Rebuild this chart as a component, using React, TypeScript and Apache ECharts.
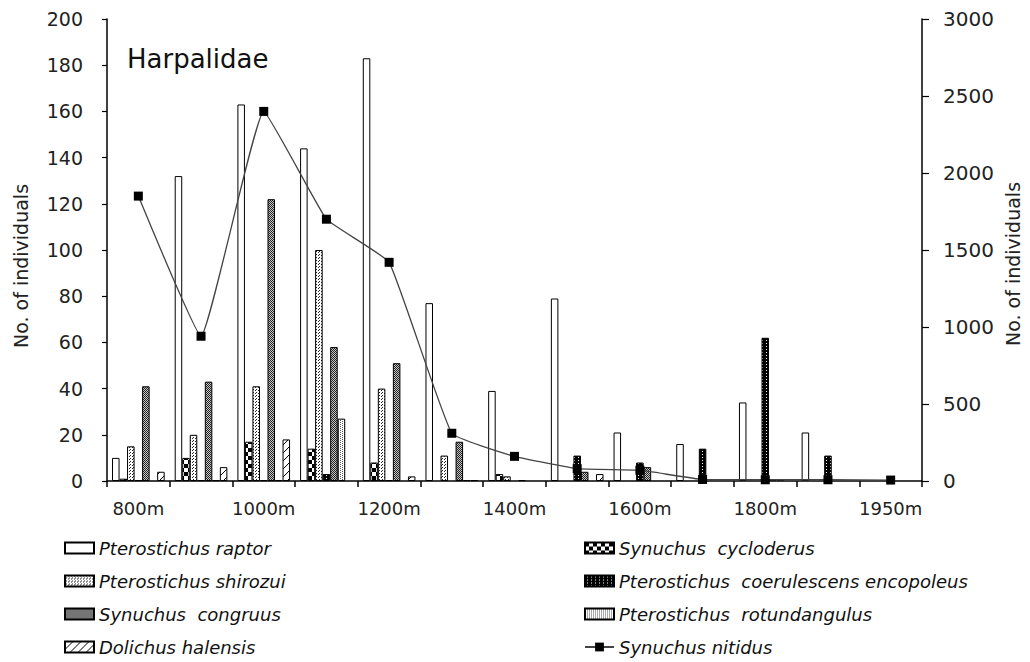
import React, { useEffect, useRef } from "react";
import * as echarts from "echarts";

const categories = ["800m", "900m", "1000m", "1100m", "1200m", "1300m", "1400m", "1500m", "1600m", "1700m", "1800m", "1900m", "1950m"];

const raptor = [10, 132, 163, 144, 183, 77, 39, 79, 21, 16, 34, 21, 0];
const cycloderus = [1, 10, 17, 14, 8, 0, 3, 0, 0, 0, 0, 0, 0];
const shirozui = [15, 20, 41, 100, 40, 11, 2, 0, 0, 0, 0, 0, 0];
const coerulescens = [0.4, 0.4, 0.4, 3, 0.4, 0, 0, 11, 8, 14, 62, 11, 0];
const congruus = [41, 43, 122, 58, 51, 17, 0.4, 4, 6, 0, 0.4, 0, 0];
const rotundangulus = [0, 0.4, 0.4, 27, 0, 0.4, 0, 0, 0, 0, 0.4, 0, 0];
const halensis = [4, 6, 18, 0, 2, 0.4, 0, 3, 0, 0, 0, 0, 0];
const nitidus = [1850, 940, 2400, 1700, 1420, 310, 160, 80, 70, 10, 8, 8, 6];

const leftTicks = { min: 0, max: 200, interval: 20 };
const rightTicks = { min: 0, max: 3000, interval: 500 };

const FONT = '"DejaVu Sans", "Noto Sans", sans-serif';

function makePattern(w: number, h: number, draw: (ctx: CanvasRenderingContext2D) => void) {
  const c = document.createElement("canvas");
  c.width = w;
  c.height = h;
  const ctx = c.getContext("2d")!;
  draw(ctx);
  return { image: c.toDataURL(), repeat: "repeat" } as any;
}

function px(ctx: CanvasRenderingContext2D, pts: number[][], color: string) {
  ctx.fillStyle = color;
  pts.forEach(([x, y]) => ctx.fillRect(x, y, 1, 1));
}

export default function App() {
  const ref = useRef<HTMLDivElement>(null);
  useEffect(() => {
    const chart = echarts.init(ref.current!, null, { renderer: "svg" });

    const patShirozui = makePattern(3, 3, (ctx) => {
      ctx.fillStyle = "#fff";
      ctx.fillRect(0, 0, 3, 3);
      px(ctx, [[0, 0], [1, 2]], "#222");
    });
    const patCongruus = makePattern(2, 2, (ctx) => {
      ctx.fillStyle = "#c8c8c8";
      ctx.fillRect(0, 0, 2, 2);
      px(ctx, [[0, 0], [1, 1]], "#222");
    });
    const patCycloderus = makePattern(8, 8, (ctx) => {
      ctx.fillStyle = "#fff";
      ctx.fillRect(0, 0, 8, 8);
      ctx.fillStyle = "#000";
      ctx.fillRect(0, 0, 4, 4);
      ctx.fillRect(4, 4, 4, 4);
    });
    const patCoerulescens = makePattern(4, 3, (ctx) => {
      ctx.fillStyle = "#000";
      ctx.fillRect(0, 0, 4, 3);
      px(ctx, [[2, 1]], "#fff");
    });
    const patHalensis = makePattern(8, 8, (ctx) => {
      ctx.fillStyle = "#fff";
      ctx.fillRect(0, 0, 8, 8);
      ctx.strokeStyle = "#000";
      ctx.lineWidth = 1;
      ctx.beginPath();
      ctx.moveTo(0, 8);
      ctx.lineTo(8, 0);
      ctx.stroke();
    });
    const patRotund = makePattern(4, 2, (ctx) => {
      ctx.fillStyle = "#fff";
      ctx.fillRect(0, 0, 4, 2);
      px(ctx, [[0, 0], [2, 1]], "#555");
    });

    const toData = (arr: number[]) => arr.map((v) => (v === 0 ? "-" : v));

    const barBase = (name: string, data: number[], color: any) => ({
      name,
      type: "bar",
      yAxisIndex: 0,
      data: toData(data),
      barGap: "0%",
      barCategoryGap: "16%",
      itemStyle: { color, borderColor: "#000", borderWidth: 1 },
      emphasis: { disabled: true },
    });

    const names = {
      raptor: "Pterostichus raptor",
      shirozui: "Pterostichus shirozui",
      congruus: "Synuchus  congruus",
      halensis: "Dolichus halensis",
      cycloderus: "Synuchus  cycloderus",
      coerulescens: "Pterostichus  coerulescens encopoleus",
      rotund: "Pterostichus  rotundangulus",
      nitidus: "Synuchus nitidus",
    };

    const legendCommon = {
      orient: "vertical",
      top: 539,
      padding: 0,
      itemWidth: 29,
      itemHeight: 11,
      itemGap: 15,
      selectedMode: false,
      textStyle: { fontFamily: FONT, fontSize: 18, lineHeight: 18, fontStyle: "italic", color: "#111" },
    };

    const option: any = {
      animation: false,
      backgroundColor: "#fff",
      grid: { left: 107, right: 108, top: 19, bottom: 181, containLabel: false },
      legend: [
        {
          ...legendCommon,
          left: 64,
          data: [
            { name: names.raptor, icon: "rect" },
            { name: names.shirozui, icon: "rect" },
            { name: names.congruus, icon: "rect" },
            { name: names.halensis, icon: "rect" },
          ],
        },
        {
          ...legendCommon,
          left: 584,
          data: [
            { name: names.cycloderus, icon: "rect" },
            { name: names.coerulescens, icon: "rect" },
            { name: names.rotund, icon: "rect" },
            { name: names.nitidus },
          ],
        },
      ],
      xAxis: {
        type: "category",
        data: categories,
        boundaryGap: true,
        axisLine: { lineStyle: { color: "#000", width: 1.5 } },
        axisTick: { show: true, interval: 0, length: 6, lineStyle: { color: "#000", width: 1.5 } },
        axisLabel: { interval: 1, color: "#222", fontFamily: FONT, fontSize: 18, margin: 18 },
        splitLine: { show: false },
      },
      yAxis: [
        {
          type: "value",
          ...leftTicks,
          position: "left",
          axisLine: { show: true, lineStyle: { color: "#000", width: 1.5 } },
          axisTick: { show: true, length: 5, lineStyle: { color: "#000", width: 1.2 } },
          axisLabel: { color: "#222", fontFamily: FONT, fontSize: 19, margin: 24 },
          splitLine: { show: false },
        },
        {
          type: "value",
          ...rightTicks,
          position: "right",
          axisLine: { show: true, lineStyle: { color: "#000", width: 1.5 } },
          axisTick: { show: true, length: 7, lineStyle: { color: "#000", width: 1.2 } },
          axisLabel: { color: "#222", fontFamily: FONT, fontSize: 20, margin: 21, formatter: (v: number) => String(v) },
          splitLine: { show: false },
        },
      ],
      graphic: [
        {
          type: "text",
          x: 127,
          y: 59,
          style: { text: "Harpalidae", fontFamily: FONT, fontSize: 26, fill: "#111", verticalAlign: "middle", align: "left" },
        },
        {
          type: "text",
          x: 21,
          y: 266,
          rotation: Math.PI / 2,
          style: { text: "No. of individuals", fontFamily: FONT, fontSize: 19, fill: "#222", align: "center", verticalAlign: "middle" },
        },
        {
          type: "text",
          x: 1013,
          y: 264,
          rotation: Math.PI / 2,
          style: { text: "No. of individuals", fontFamily: FONT, fontSize: 19, fill: "#222", align: "center", verticalAlign: "middle" },
        },
      ],
      series: [
        barBase(names.raptor, raptor, "#fff"),
        barBase(names.cycloderus, cycloderus, patCycloderus),
        barBase(names.shirozui, shirozui, patShirozui),
        barBase(names.coerulescens, coerulescens, patCoerulescens),
        barBase(names.congruus, congruus, patCongruus),
        barBase(names.rotund, rotundangulus, patRotund),
        barBase(names.halensis, halensis, patHalensis),
        {
          name: names.nitidus,
          type: "line",
          yAxisIndex: 1,
          data: nitidus,
          smooth: 0.1,
          symbol: "rect",
          symbolSize: 9,
          z: 5,
          lineStyle: { color: "#444", width: 1.3 },
          itemStyle: { color: "#000" },
          emphasis: { disabled: true },
        },
      ],
    };
    chart.setOption(option);
    return () => chart.dispose();
  }, []);
  return <div ref={ref} style={{ width: 1030, height: 662, position: "absolute", left: 0, top: 0 }} />;
}
